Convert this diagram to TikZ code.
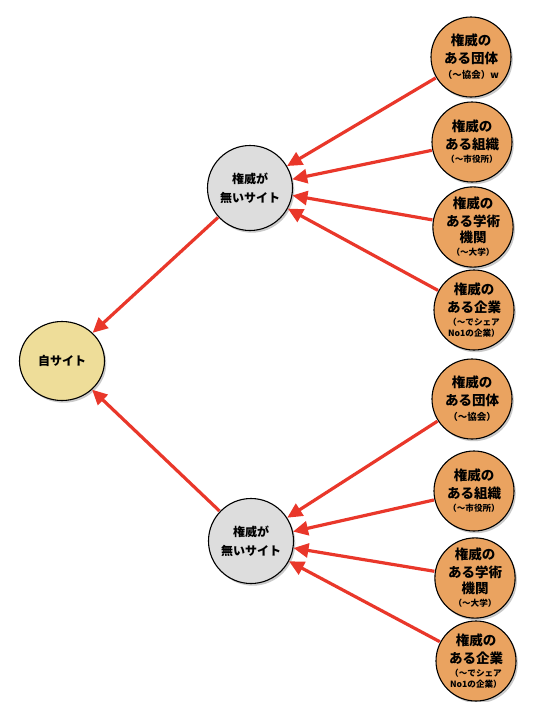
\documentclass[tikz,border=0pt]{standalone}
\usepackage{fontspec}
\setmainfont{Noto Sans CJK JP}
\usetikzlibrary{arrows.meta,shadows,shapes.geometric}
\definecolor{orangefill}{RGB}{234,163,96}
\definecolor{greyfill}{RGB}{221,221,221}
\definecolor{yellowfill}{RGB}{238,221,153}
\definecolor{arrowred}{RGB}{233,55,42}
\tikzset{
  bubble/.style={draw=black, line width=1.1pt, inner sep=0pt, align=center,
    drop shadow={shadow xshift=1.8pt, shadow yshift=-2.2pt, opacity=0.35, fill=black!60}},
  srcnode/.style={bubble, circle, minimum size=80pt, fill=orangefill,
    font=\bfseries\fontsize{13.5}{18}\selectfont},
  midnode/.style={bubble, circle, minimum size=85pt, fill=greyfill,
    font=\bfseries\fontsize{12}{19}\selectfont},
  topnode/.style={bubble, ellipse, minimum width=85pt, minimum height=79pt, fill=yellowfill,
    font=\bfseries\fontsize{12}{16}\selectfont},
  link/.style={draw=arrowred, line width=3.2pt, -{Triangle[length=15pt,width=14pt]}, shorten <=0.5pt},
}
\newcommand{\sm}[1]{{\fontsize{8.6}{10}\selectfont #1}}
\newcommand{\smb}[1]{{\fontsize{9.5}{11}\selectfont #1}}
\begin{document}
\begin{tikzpicture}[x=1pt,y=-1pt]
\useasboundingbox (0,0) rectangle (538,702);
% left
\node[topnode] (self) at (62,361) {自サイト};
% middle
\node[midnode] (m1) at (250,188) {権威が\\無いサイト};
\node[midnode] (m2) at (251,541) {権威が\\無いサイト};
% right upper
\node[srcnode] (a1) at (471,57) {権威の\\ある団体\\[-3pt]\smb{（〜協会）w}};
\node[srcnode] (a2) at (472,142) {権威の\\ある組織\\[-5pt]\sm{（〜市役所）}};
\node[srcnode] (a3) at (473,227) {権威の\\ある学術\\[-2pt]機関\\[-5pt]\sm{（〜大学）}};
\node[srcnode] (a4) at (474,310) {権威の\\ある企業\\[-5pt]\sm{（〜でシェア}\\[-7pt]\sm{No1の企業）}};
% right lower
\node[srcnode] (b1) at (472,399) {権威の\\ある団体\\[-3pt]\smb{（〜協会）}};
\node[srcnode] (b2) at (474,491) {権威の\\ある組織\\[-5pt]\sm{（〜市役所）}};
\node[srcnode] (b3) at (475,578) {権威の\\ある学術\\[-2pt]機関\\[-5pt]\sm{（〜大学）}};
\node[srcnode] (b4) at (476,661) {権威の\\ある企業\\[-5pt]\sm{（〜でシェア}\\[-7pt]\sm{No1の企業）}};
% arrows
\foreach \s in {a1,a2,a3,a4} \draw[link] (\s) -- (m1);
\foreach \s in {b1,b2,b3,b4} \draw[link] (\s) -- (m2);
\draw[link] (m1) -- (self);
\draw[link] (m2) -- (self);
\end{tikzpicture}
\end{document}
